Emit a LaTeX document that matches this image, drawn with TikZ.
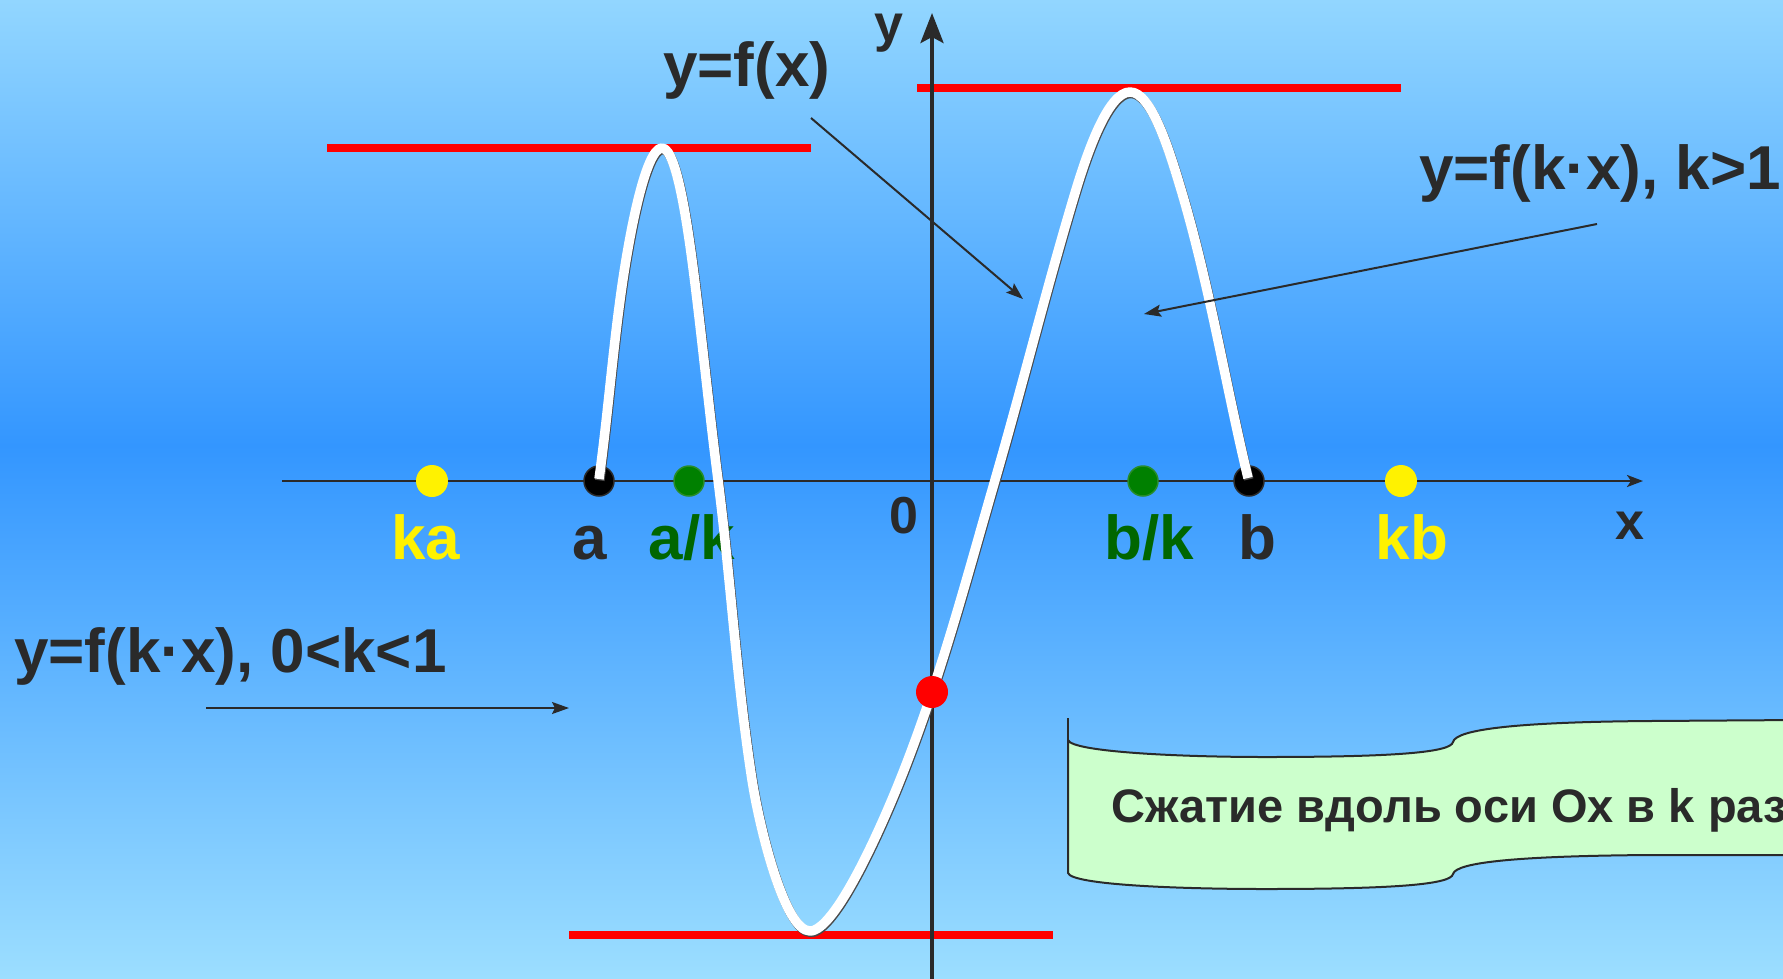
\documentclass[tikz,border=0pt]{standalone}
\usepackage{fontspec}
\setmainfont{Liberation Sans}
\usetikzlibrary{arrows.meta}
\definecolor{bgtop}{RGB}{146,214,255}
\definecolor{bgmid}{RGB}{51,150,255}
\definecolor{bgbot}{RGB}{156,222,255}
\definecolor{ink}{RGB}{42,42,42}
\definecolor{lblgreen}{RGB}{0,102,0}
\definecolor{dotgreen}{RGB}{0,128,0}
\definecolor{dotgreenrim}{RGB}{40,140,40}
\definecolor{callfill}{RGB}{204,255,204}
\definecolor{redl}{RGB}{255,0,0}
\tikzset{
  big/.style={font=\fontsize{62}{70}\selectfont\bfseries, inner sep=0pt, text=ink},
  axlbl/.style={font=\fontsize{52}{60}\selectfont\bfseries, inner sep=0pt, text=ink},
  calltext/.style={font=\fontsize{47}{54}\selectfont\bfseries, inner sep=0pt, text=ink},
  redline/.style={draw=redl, line width=8pt},
  dotbase/.style={circle, inner sep=0pt, minimum size=32pt},
  ydot/.style={dotbase, fill=yellow},
  gdot/.style={dotbase, fill=dotgreen, draw=dotgreenrim, line width=1.5pt, minimum size=30pt},
  kdot/.style={dotbase, fill=black, draw=ink, line width=1.5pt, minimum size=30pt},
  rdot/.style={dotbase, fill=redl},
  pointer/.style={draw=ink, line width=2pt, -{Stealth[length=17pt,width=12pt,inset=3pt]}},
  curvestyle/.style={draw=white, line width=9.5pt, line join=round,
     preaction={draw=ink!85, line width=9.5pt, transform canvas={xshift=0.8pt, yshift=-1.4pt}}},
}
\begin{document}
\begin{tikzpicture}[x=1pt,y=-1pt]
\useasboundingbox (0,0) rectangle (1783,978);
\begin{scope}
\clip (0,0) rectangle (1783,978);
% background
\shade[top color=bgtop,bottom color=bgmid] (0,0) rectangle (1783,446);
\shade[top color=bgmid,bottom color=bgbot] (0,445) rectangle (1783,978);

% red bounding lines
\draw[redline] (327,148) -- (811,148);
\draw[redline] (917,88) -- (1401,88);
\draw[redline] (569,935) -- (1053,935);

% axes
\coordinate (xs) at (282,481);
\coordinate (xe) at (1643,481);
\coordinate (ys) at (932,990);
\coordinate (ye) at (932,13);
\draw[draw=ink, line width=2.5pt, -{Stealth[length=16pt,width=12pt,inset=4pt]}] (xs) -- (xe);
\draw[draw=ink, line width=4pt, -{Stealth[length=30pt,width=23pt,inset=6pt]}] (ys) -- (ye);
\node[axlbl, anchor=base] (ly) at (889,41) {y};
\node[axlbl, anchor=base] (lx) at (1630,539) {x};
\node[axlbl, anchor=base] (l0) at (904,533) {0};

% point labels
\node[big, text=yellow, anchor=base] (lka) at (426,559) {ka};
\node[big, anchor=base] (la) at (590,559) {a};
\node[big, text=lblgreen, anchor=base] (lak) at (692,559) {a/k};
\node[big, text=lblgreen, anchor=base] (lbk) at (1149,559) {b/k};
\node[big, anchor=base] (lb) at (1257,559) {b};
\node[big, text=yellow, anchor=base] (lkb) at (1412,559) {kb};

% points on the x axis
\node[ydot] (pka) at (432,481) {};
\node[kdot] (pa) at (599,481) {};
\node[gdot] (pak) at (689,481) {};
\node[gdot] (pbk) at (1143,481) {};
\node[kdot] (pb) at (1249,481) {};
\node[ydot] (pkb) at (1401,481) {};

% the graph
\draw[curvestyle] (599,479)
 .. controls (607.3,419) and (611.9,360) .. (620,300)
 .. controls (628,240) and (645,148) .. (662,148)
 .. controls (678,148) and (689.8,240) .. (697,300)
 .. controls (704.2,360) and (710.3,420) .. (718,480)
 .. controls (730.8,580) and (736.4,680) .. (752,780)
 .. controls (759.8,830) and (785,931) .. (810,931)
 .. controls (835,931) and (880,830) .. (900,780)
 .. controls (940,680) and (966,580) .. (995,480)
 .. controls (1022.8,384) and (1046.2,289) .. (1075,193)
 .. controls (1087,153) and (1108,92) .. (1130,92)
 .. controls (1152,92) and (1170,153) .. (1182,193)
 .. controls (1210,288) and (1225.2,383) .. (1248,478);
\node[rdot] (p0) at (932,692) {};

% function labels and pointers
\node[big, anchor=base west] (f1) at (663,86) {y=f(x)};
\node[big, anchor=base west] (f2) at (1419,189) {y=f(k·x), k>1};
\node[big, anchor=base west] (f3) at (14,672) {y=f(k·x), 0<k<1};
\coordinate (a1s) at (811,118);
\coordinate (a1e) at (1023,299);
\coordinate (a2s) at (1597,224);
\coordinate (a2e) at (1144,314);
\coordinate (a3s) at (206,708);
\coordinate (a3e) at (569,708);
\draw[pointer] (a1s) -- (a1e);
\draw[pointer] (a2s) -- (a2e);
\draw[pointer] (a3s) -- (a3e);

% wave banner
\draw[fill=callfill, draw=ink, line width=2pt, line join=round]
 (1068,740) .. controls (1072,752) and (1180,757) .. (1265,757)
 .. controls (1400,757) and (1451,752) .. (1453,742)
 .. controls (1456,729) and (1520,722) .. (1650,721) -- (1800,720)
 -- (1800,855) -- (1650,855)
 .. controls (1520,856) and (1456,862) .. (1453,874)
 .. controls (1451,884) and (1400,889) .. (1265,889)
 .. controls (1180,889) and (1072,885) .. (1068,873) -- cycle;
\draw[draw=ink, line width=2pt] (1068,718) -- (1068,742);
\node[calltext, anchor=base west] (ct) at (1111,822) {Сжатие вдоль оси Ox в k раз};
\end{scope}
\end{tikzpicture}
\end{document}
